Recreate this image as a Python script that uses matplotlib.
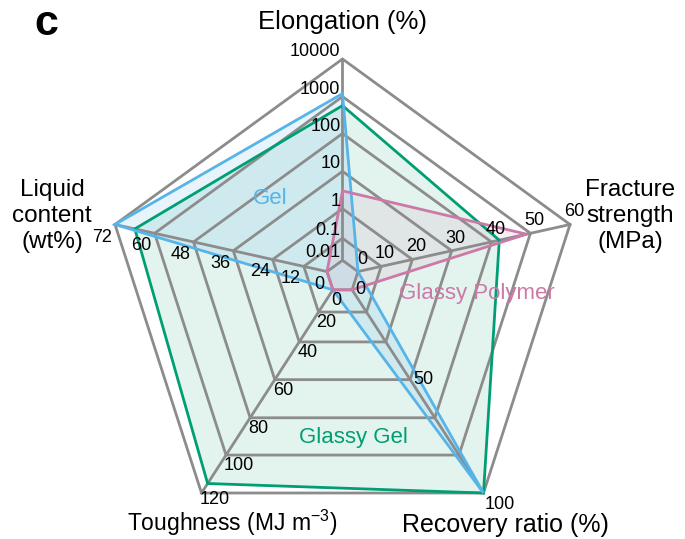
import numpy as np
import matplotlib
matplotlib.use("Agg")
import matplotlib.pyplot as plt
from matplotlib.patches import Polygon

plt.rcParams['font.family'] = ['Liberation Sans', 'DejaVu Sans']
plt.rcParams['mathtext.default'] = 'regular'

# ---- data ----
axis_titles = ["Elongation (%)", "Fracture\nstrength\n(MPa)", "Recovery ratio (%)",
               "Toughness (MJ m$^{-3}$)", "Liquid\ncontent\n(wt%)"]
elong_ticks = ["0.01", "0.1", "1", "10", "100", "1000", "10000"]
strength_ticks = ["0", "10", "20", "30", "40", "50", "60"]
recovery_ticks = ["0", "", "", "50", "", "", "100"]
tough_ticks = ["0", "20", "40", "60", "80", "100", "120"]
liquid_ticks = ["0", "12", "24", "36", "48", "60", "72"]

series_names = ["Glassy Gel", "Gel", "Glassy Polymer"]
elongation = [570, 1200, 3]          # %
strength = [42, 0, 49]               # MPa
recovery = [100, 100, 0]             # %
toughness = [115, 0, 0]              # MJ m-3
liquid = [66, 72, 0]                 # wt%

colors = {"Glassy Gel": "#009E73", "Gel": "#56B4E9", "Glassy Polymer": "#CC79A7"}

# ---- geometry (pixel space, y downward) ----
W, H = 685, 539
cx, cy = 342.5, 275.0
spokes = np.array([[0.0, -216.0], [227.5, -50.5], [141.0, 218.0],
                   [-141.0, 218.0], [-227.5, -50.5]])
ring_frac = np.array([0.068, 0.17, 0.307, 0.48, 0.655, 0.826, 1.0])
n_rings = len(ring_frac)


def ring_index(axis, v):
    if axis == 0:
        return np.log10(v) + 2.0
    if axis == 1:
        return v / 10.0
    if axis == 2:
        return v / (50.0 / 3.0)
    if axis == 3:
        return v / 20.0
    return v / 12.0


def point(axis, idx):
    f = np.interp(idx, np.arange(n_rings), ring_frac)
    return cx + f * spokes[axis, 0], cy + f * spokes[axis, 1]


fig = plt.figure(figsize=(W / 100, H / 100), dpi=100)
ax = fig.add_axes([0, 0, 1, 1])
ax.set_xlim(0, W)
ax.set_ylim(H, 0)
ax.axis("off")

# ---- series fills and outlines ----
values = [elongation, strength, recovery, toughness, liquid]
fill_alpha = {"Glassy Gel": 0.11, "Gel": 0.14, "Glassy Polymer": 0.12}
for s, name in enumerate(series_names):
    pts = [point(a, ring_index(a, values[a][s])) for a in range(5)]
    ax.add_patch(Polygon(pts, closed=True, facecolor=colors[name],
                         alpha=fill_alpha[name], edgecolor="none", zorder=1))

grid_col = "#8c8c8c"
for k in range(n_rings):
    pts = [point(a, k) for a in range(5)]
    ax.add_patch(Polygon(pts, closed=True, fill=False, edgecolor=grid_col,
                         lw=2.0, joinstyle="miter", zorder=2))
for a in range(5):
    x0, y0 = point(a, 0)
    x1, y1 = point(a, n_rings - 1)
    ax.plot([x0, x1], [y0, y1], color=grid_col, lw=2.0, zorder=2)

for s, name in enumerate(series_names):
    pts = [point(a, ring_index(a, values[a][s])) for a in range(5)]
    ax.add_patch(Polygon(pts, closed=True, fill=False, edgecolor=colors[name],
                         lw=2.0, joinstyle="miter", zorder=3))

# ---- tick labels ----
tick_sets = [elong_ticks, strength_ticks, recovery_ticks, tough_ticks, liquid_ticks]
tick_place = [("right", "bottom", -2, 1), ("center", "bottom", 4, -4),
              ("left", "center", 3, 0), ("left", "top", -2, 2),
              ("right", "top", -3, 4)]
tfs = 13
for a in range(5):
    ha, va, dx, dy = tick_place[a]
    for k, lab in enumerate(tick_sets[a]):
        if not lab:
            continue
        x, y = point(a, k)
        h2, v2, ddx, ddy = ha, va, dx, dy
        if a == 2 and k == n_rings - 1:
            h2, v2, ddx, ddy = "left", "top", 1, 3
        if a == 3 and k == n_rings - 1:
            ddy = -2
        ax.text(x + ddx, y + ddy, lab, ha=h2, va=v2, fontsize=tfs,
                color="black", zorder=5)

# ---- axis titles ----
ax.text(343, 22, axis_titles[0], ha="center", va="center", fontsize=18.5)
ax.text(630, 216, axis_titles[1], ha="center", va="center", fontsize=17.5,
        linespacing=1.22)
ax.text(505, 525, axis_titles[2], ha="center", va="center", fontsize=18)
ax.text(232, 523, axis_titles[3], ha="center", va="center", fontsize=16.5)
ax.text(52, 216, axis_titles[4], ha="center", va="center", fontsize=17.5,
        linespacing=1.22)

# ---- series names ----
ax.text(270, 199, "Gel", color=colors["Gel"], ha="center", va="center", fontsize=16)
ax.text(477, 293, "Glassy Polymer", color=colors["Glassy Polymer"],
        ha="center", va="center", fontsize=16)
ax.text(353, 438, "Glassy Gel", color=colors["Glassy Gel"], ha="center",
        va="center", fontsize=16)

# panel letter
ax.text(46, 24, "c", ha="center", va="center", fontsize=31, fontweight="bold")

fig.savefig("out.png", dpi=100)
